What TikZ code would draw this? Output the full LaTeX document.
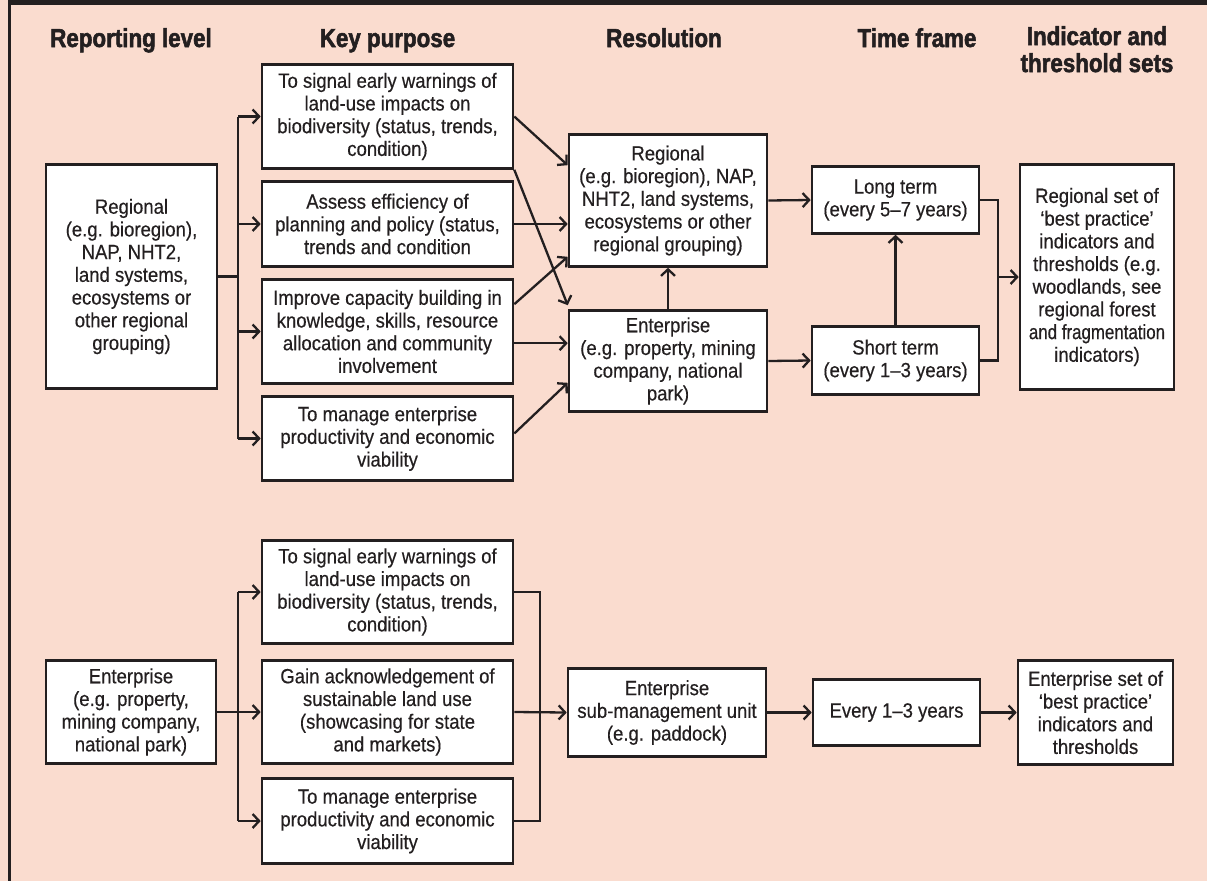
\documentclass[tikz,border=0pt]{standalone}
\usepackage{fontspec}
\setmainfont{Liberation Sans}[FakeStretch=0.9,FakeBold=0.4]
\newfontfamily\narrowfont{Liberation Sans}[FakeStretch=0.82,FakeBold=0.4]
\newfontfamily\headfont{Liberation Sans Bold}[FakeStretch=0.86,FakeBold=2]
\usetikzlibrary{arrows.meta,calc}
\definecolor{peach}{RGB}{250,220,207}
\definecolor{ink}{RGB}{35,31,32}

\tikzset{
  box/.style={draw=ink, fill=white, line width=2.6pt, inner sep=0pt,
    align=center, text=ink, font=\fontsize{20.6}{22.7}\selectfont},
  % box given by its left, top, right and bottom edges
  span/.style n args={4}{minimum width={(#3-#1)*1pt}, minimum height={(#4-#2)*1pt},
    at={({(#1+#3)/2},{(#2+#4)/2+1.5})}},
  head/.style={inner sep=0pt, align=center, text=ink,
    font=\headfont\fontsize{26}{27}\selectfont},
  conn/.style={draw=ink, line width=2.3pt},
  arr/.style={conn, -{Straight Barb[length=6.5pt,width=14pt,line width=2.3pt]}}
}

\begin{document}
\begin{tikzpicture}[x=1pt,y=-1pt]
% page and frame
\fill[peach] (0,0) rectangle (1207,881);
\useasboundingbox (0,0) rectangle (1207,881);
\fill[ink] (7.7,0) rectangle (1207,4.5);
\fill[ink] (7.7,0) rectangle (11.3,881);

% column headings
\node[head, anchor=base] (hrep) at (131,47) {Reporting level};
\node[head, anchor=base] (hkey) at (387.5,47) {Key purpose};
\node[head, anchor=base] (hres) at (664,47) {Resolution};
\node[head, anchor=base] (htime) at (917,47) {Time frame};
\node[head, anchor=north] (hind) at (1097,26) {Indicator and\\threshold sets};

% regional reporting level
\node[box, span={46}{163}{217}{387}] (a) {Regional\\(e.g. bioregion),\\NAP, NHT2,\\land systems,\\ecosystems or\\other regional\\grouping)};
\node[box, span={262}{63}{513}{167}] (k1) {To signal early warnings of\\land-use impacts on\\biodiversity (status, trends,\\condition)};
\node[box, span={262}{180}{513}{265}] (k2) {Assess efficiency of\\planning and policy (status,\\trends and condition};
\node[box, span={262}{278}{513}{382}] (k3) {Improve capacity building in\\knowledge, skills, resource\\allocation and community\\involvement};
\node[box, span={262}{395}{513}{479}] (k4) {To manage enterprise\\productivity and economic\\viability};
\node[box, span={569}{133}{767}{265}] (r1) {Regional\\(e.g. bioregion), NAP,\\NHT2, land systems,\\ecosystems or other\\regional grouping)};
\node[box, span={569}{309}{767}{410}] (r2) {Enterprise\\(e.g. property, mining\\company, national\\park)};
\node[box, span={812}{165}{979}{232}] (t1) {Long term\\(every 5--7 years)};
\node[box, span={812}{325}{979}{393}] (t2) {Short term\\(every 1--3 years)};
\node[box, span={1020}{163}{1174}{388}] (i1) {Regional set of\\‘best practice’\\indicators and\\thresholds (e.g.\\woodlands, see\\regional forest\\{\narrowfont and fragmentation}\\indicators)};

% enterprise reporting level
\node[box, span={46}{659}{216}{762}] (b) {Enterprise\\(e.g. property,\\mining company,\\national park)};
\node[box, span={262}{539}{513}{642}] (k5) {To signal early warnings of\\land-use impacts on\\biodiversity (status, trends,\\condition)};
\node[box, span={262}{659}{513}{762}] (k6) {Gain acknowledgement of\\sustainable land use\\(showcasing for state\\and markets)};
\node[box, span={262}{777}{513}{862}] (k7) {To manage enterprise\\productivity and economic\\viability};
\node[box, span={568}{667}{766}{755}] (r3) {Enterprise\\sub-management unit\\(e.g. paddock)};
\node[box, span={813}{678}{980}{744}] (t3) {Every 1--3 years};
\node[box, span={1018}{659}{1173}{763}] (i2) {Enterprise set of\\‘best practice’\\indicators and\\thresholds};

% junction points
\coordinate (j1) at (238,275);
\coordinate (j2) at (238,711);
\coordinate (m1) at (998,275);
\coordinate (m2) at (540,711);

% regional branch
\draw[conn] (a.east) -- (j1 |- a.east);
\draw[conn] (j1 |- k1.west) -- (j1 |- k4.west);
\foreach \k in {k1,k2,k3,k4} \draw[arr] (j1 |- \k.west) -- (\k.west);

\draw[arr] (k1.east) -- ($(r1.north west)+(0,32)$);
\draw[arr] (k1.south east) -- ($(r2.north west)+(0,-4)$);
\draw[arr] (k2.east) -- (k2.east -| r1.west);
\draw[arr] ($(k3.north east)+(0,26)$) -- ($(r1.south west)+(0,-11)$);
\draw[arr] ($(k3.north east)+(0,65)$) -- ($(r2.west |- k3.north east)+(0,65)$);
\draw[arr] ($(k4.east)+(0,-5)$) -- ($(r2.south west)+(0,-30)$);

\draw[arr] (r2.north) -- (r1.south);
\draw[arr] (r1.east) -- (t1.west);
\draw[arr] (r2.east) -- (t2.west);
\draw[arr] (t2.north) -- (t1.south);
\draw[conn] (t1.east) -| (m1 |- t2.east) -- (t2.east);
\draw[arr] (m1 |- i1.west) -- (i1.west);

% enterprise branch
\draw[conn] (b.east) -- (j2 |- b.east);
\draw[conn] (j2 |- k5.west) -- (j2 |- k7.west);
\foreach \k in {k5,k6,k7} \draw[arr] (j2 |- \k.west) -- (\k.west);
\draw[conn] (k5.east) -| (m2 |- k7.east) -- (k7.east);
\draw[arr] (k6.east) -- (r3.west);
\draw[arr] (r3.east) -- (t3.west);
\draw[arr] (t3.east) -- (i2.west);
\end{tikzpicture}
\end{document}
